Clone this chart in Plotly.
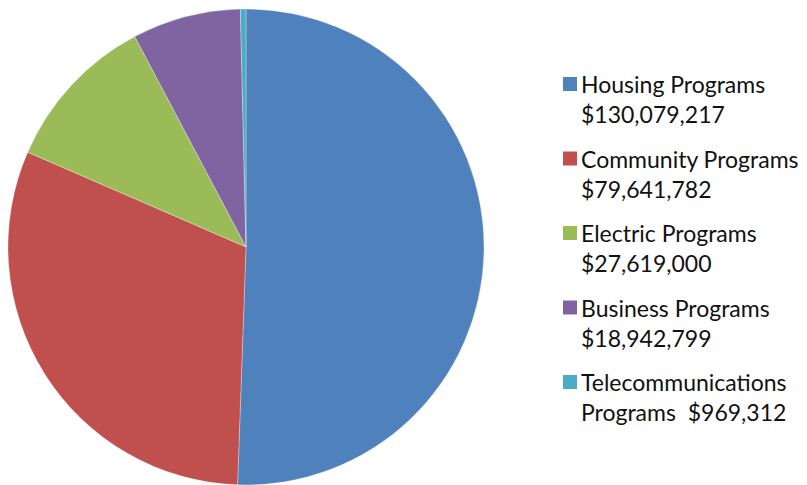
import plotly.graph_objects as go

categories = ["Housing Programs", "Community Programs", "Electric Programs",
              "Business Programs", "Telecommunications Programs"]
values = [130079217, 79641782, 27619000, 18942799, 969312]
legend_labels = ["Housing Programs<br>$130,079,217",
                 "Community Programs<br>$79,641,782",
                 "Electric Programs<br>$27,619,000",
                 "Business Programs<br>$18,942,799",
                 "Telecommunications<br>Programs&nbsp; $969,312"]
colors = ["#4F81BD", "#C0504D", "#9BBB59", "#8064A2", "#4BACC6"]

W, H = 807, 485
FS = 23
TEXT_COLOR = "#111111"
OFF = 8  # page body margin in the photographed window


def px(x):
    return (x - OFF) / W


def py(y):
    return 1 - (y - OFF) / H


fig = go.Figure(go.Pie(
    labels=categories,
    values=values,
    marker=dict(colors=colors, line=dict(color="rgba(255,255,255,0.6)", width=0.5)),
    sort=False,
    direction="clockwise",
    rotation=0,
    textinfo="none",
    hoverinfo="label+value",
    showlegend=False,
    domain=dict(x=[0, 476 / W], y=[1 - 477 / H, 1 - 1 / H]),
))

# legend drawn as text entries beside the pie
first_baseline = 92
step = 74.5
annotations = []
shapes = []
for i, (lab, col) in enumerate(zip(legend_labels, colors)):
    base = first_baseline + i * step
    annotations.append(dict(
        x=px(580), y=py(base - 23), xref="paper", yref="paper",
        xanchor="left", yanchor="top", align="left",
        text=lab, showarrow=False, borderpad=0,
        font=dict(size=FS, family="Lato", color=TEXT_COLOR),
    ))
    shapes.append(dict(
        type="rect", xref="paper", yref="paper",
        x0=px(563), x1=px(577), y0=py(base - 15), y1=py(base - 1),
        fillcolor=col, line=dict(width=0),
    ))

fig.update_layout(
    width=W, height=H,
    margin=dict(l=0, r=0, t=0, b=0),
    paper_bgcolor="white",
    font=dict(family="Lato", color=TEXT_COLOR),
    showlegend=False,
    annotations=annotations,
    shapes=shapes,
)
fig.write_html("out.html")
